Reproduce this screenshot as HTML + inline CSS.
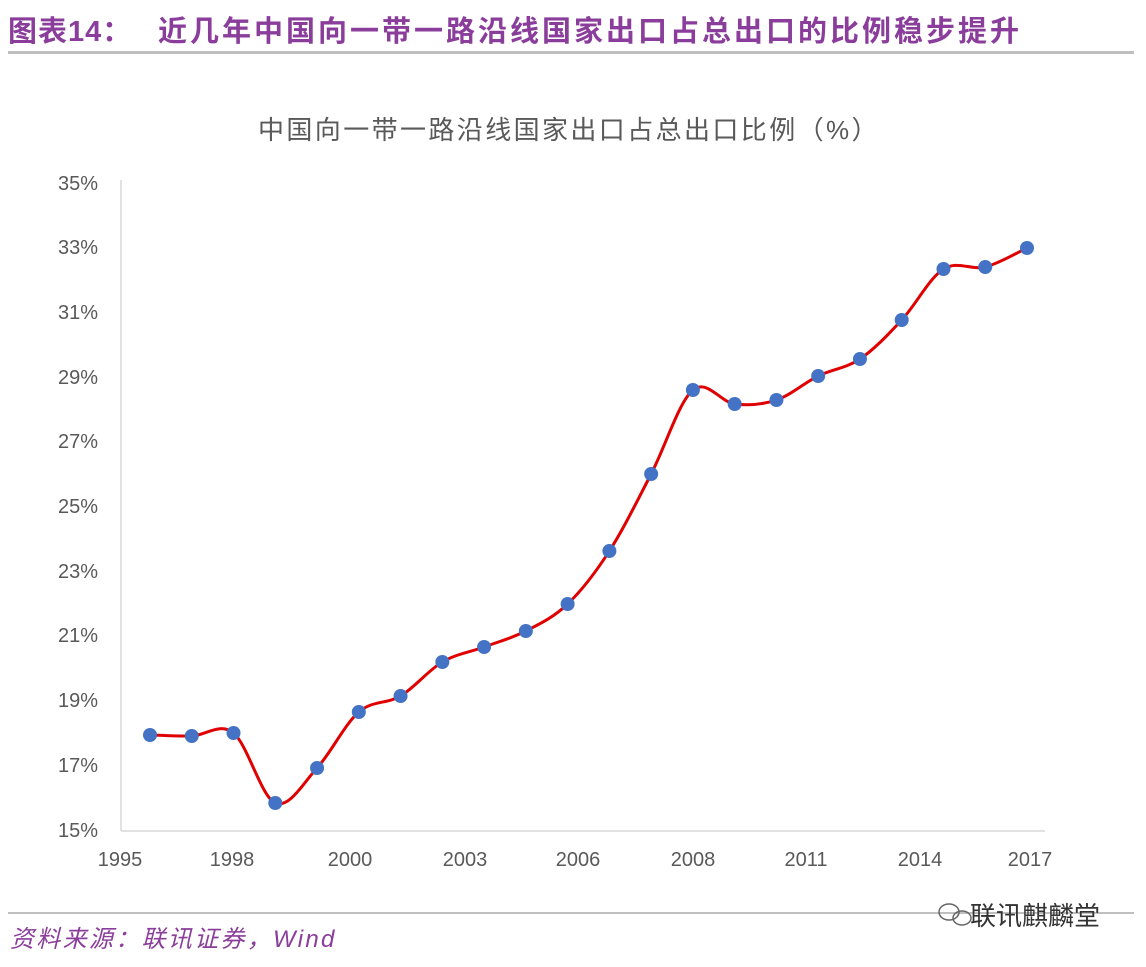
<!DOCTYPE html>
<html><head><meta charset="utf-8"><style>
body{margin:0;background:#fff;width:1146px;height:967px;overflow:hidden;font-family:"Liberation Sans","Noto Sans CJK SC",sans-serif;}
</style></head><body>
<svg width="1146" height="967" xmlns="http://www.w3.org/2000/svg" style="position:absolute;left:0;top:0">
<text x="8" y="41" font-size="29" font-weight="bold" fill="#8A3D9A" letter-spacing="1" font-family="Liberation Sans, Noto Sans CJK SC, sans-serif">图表14：</text>
<text x="158" y="41" font-size="29" font-weight="bold" fill="#8A3D9A" letter-spacing="3" font-family="Liberation Sans, Noto Sans CJK SC, sans-serif">近几年中国向一带一路沿线国家出口占总出口的比例稳步提升</text>
<rect x="8" y="51" width="1126" height="3" fill="#bfbfbf"/>
<text x="258" y="139" font-size="26" fill="#595959" letter-spacing="2.4" font-family="Liberation Sans, Noto Sans CJK SC, sans-serif">中国向一带一路沿线国家出口占总出口比例（%）</text>
<g font-size="20" fill="#595959" text-anchor="end" font-family="Liberation Sans, sans-serif">
<text x="98" y="190">35%</text><text x="98" y="254">33%</text><text x="98" y="319">31%</text><text x="98" y="384">29%</text><text x="98" y="448">27%</text><text x="98" y="513">25%</text><text x="98" y="578">23%</text><text x="98" y="642">21%</text><text x="98" y="707">19%</text><text x="98" y="772">17%</text><text x="98" y="837">15%</text>
</g>
<line x1="121" y1="180" x2="121" y2="831" stroke="#d9d9d9" stroke-width="1.5"/>
<line x1="121" y1="831" x2="1045" y2="831" stroke="#d9d9d9" stroke-width="1.5"/>
<g font-size="20" fill="#595959" text-anchor="middle" font-family="Liberation Sans, sans-serif">
<text x="120" y="866">1995</text><text x="232" y="866">1998</text><text x="350" y="866">2000</text><text x="465" y="866">2003</text><text x="578" y="866">2006</text><text x="693" y="866">2008</text><text x="806" y="866">2011</text><text x="920" y="866">2014</text><text x="1030" y="866">2017</text>
</g>
<path id="curve" fill="none" stroke="#E00000" stroke-width="3"/>
<g id="pts" fill="#4472C4"></g>
<rect x="8" y="912" width="1126" height="2" fill="#bfbfbf"/>
<text x="10" y="947" font-size="24" font-style="italic" fill="#8A3D9A" letter-spacing="2.3" font-family="Liberation Sans, Noto Sans CJK SC, sans-serif">资料来源：联讯证券，Wind</text>
<g transform="translate(940,912)" fill="none" stroke="#666" stroke-width="1.5">
<ellipse cx="9" cy="0" rx="10" ry="8"/><ellipse cx="22" cy="6" rx="9" ry="7"/>
</g>
<text x="970" y="925" font-size="26" fill="#333" font-family="Liberation Sans, Noto Sans CJK SC, sans-serif">联讯麒麟堂</text>
</svg>
<script>
var ys=[735,736,733,803,768,712,696,662,647,631,604,551,474,390,404,400,376,359,320,269,267,248];
var p=ys.map(function(y,i){return [150+i*(1027-150)/21,y];});
var d="M"+p[0][0]+","+p[0][1];
for(var i=0;i<p.length-1;i++){var a=p[i-1]||p[i],b=p[i],c=p[i+1],e=p[i+2]||c;var t=6;
d+=" C"+(b[0]+(c[0]-a[0])/t)+","+(b[1]+(c[1]-a[1])/t)+" "+(c[0]-(e[0]-b[0])/t)+","+(c[1]-(e[1]-b[1])/t)+" "+c[0]+","+c[1];}
document.getElementById("curve").setAttribute("d",d);
var g=document.getElementById("pts"),s="";
p.forEach(function(q){s+='<circle cx="'+q[0]+'" cy="'+q[1]+'" r="7"/>';});
g.innerHTML=s;
</script>
</body></html>
